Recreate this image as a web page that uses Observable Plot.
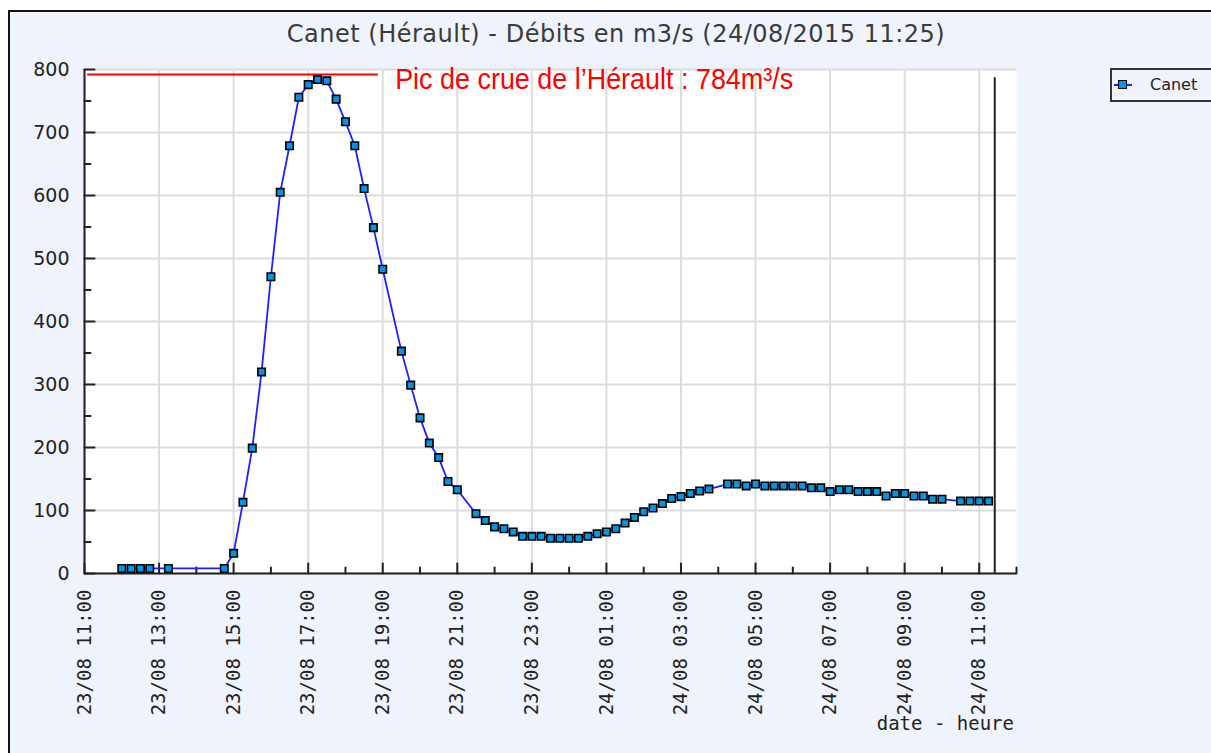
<!DOCTYPE html>
<html>
<head>
<meta charset="utf-8">
<script src="https://cdn.jsdelivr.net/npm/d3@7"></script>
<script src="https://cdn.jsdelivr.net/npm/@observablehq/plot@0.6"></script>
<style>
  html, body { margin: 0; padding: 0; background: #ffffff; }
  #root { position: relative; width: 1211px; height: 753px; overflow: hidden; font-family: "DejaVu Sans", sans-serif; }
  #panel { position: absolute; left: 8px; top: 10px; width: 1240px; height: 800px; border: 2px solid #111; background: #eff4fc; box-sizing: border-box; }
  #title { position: absolute; left: 616px; top: 22px; transform: translateX(-50%); white-space: nowrap;
           font-family: "DejaVu Sans", sans-serif; font-size: 24px; line-height: 24px; letter-spacing: 0.5px; color: #3a3a3a; }
  #chart { position: absolute; left: 0; top: 0; }
  #xlabel { position: absolute; right: 197px; top: 714px; white-space: nowrap;
            font-family: "DejaVu Sans Mono", monospace; font-size: 19px; line-height: 19px; color: #222; }
  #legend { position: absolute; left: 1110px; top: 68px; width: 140px; height: 34px; box-sizing: border-box;
            border: 2px solid #333; background: #eff4fc; }
  #legend .ln { position: absolute; left: 2px; top: 14px; width: 18px; height: 2px; background: #1f1fff; }
  #legend .sq { position: absolute; left: 6px; top: 10px; width: 7px; height: 7px; background: #0096e6; border: 1.5px solid #000; }
  #legend .tx { position: absolute; left: 38px; top: 6px; font-family: "DejaVu Sans", sans-serif; font-size: 16px; line-height: 18px; color: #222; }
</style>
</head>
<body>
<div id="root">
  <div id="panel"></div>
  <div id="title"></div>
  <div id="chart"></div>
  <div id="xlabel"></div>
  <div id="legend"><span class="ln"></span><span class="sq"></span><span class="tx"></span></div>
</div>
<script>
// ---- Texts ----
const titleText = "Canet (Hérault) - Débits en m3/s (24/08/2015 11:25)";
const xAxisLabel = "date - heure";
const seriesName = "Canet";
const peakLabel = "Pic de crue de l’Hérault : 784m³/s";

// ---- Series: measurement times and flows (m3/s) ----
const times = [
  "2015-08-23T12:00","2015-08-23T12:15","2015-08-23T12:30","2015-08-23T12:45","2015-08-23T13:15",
  "2015-08-23T14:45","2015-08-23T15:00","2015-08-23T15:15","2015-08-23T15:30","2015-08-23T15:45",
  "2015-08-23T16:00","2015-08-23T16:15","2015-08-23T16:30","2015-08-23T16:45","2015-08-23T17:00",
  "2015-08-23T17:15","2015-08-23T17:30","2015-08-23T17:45","2015-08-23T18:00","2015-08-23T18:15",
  "2015-08-23T18:30","2015-08-23T18:45","2015-08-23T19:00","2015-08-23T19:30","2015-08-23T19:45",
  "2015-08-23T20:00","2015-08-23T20:15","2015-08-23T20:30","2015-08-23T20:45","2015-08-23T21:00",
  "2015-08-23T21:30","2015-08-23T21:45","2015-08-23T22:00","2015-08-23T22:15","2015-08-23T22:30",
  "2015-08-23T22:45","2015-08-23T23:00","2015-08-23T23:15","2015-08-23T23:30","2015-08-23T23:45",
  "2015-08-24T00:00","2015-08-24T00:15","2015-08-24T00:30","2015-08-24T00:45","2015-08-24T01:00",
  "2015-08-24T01:15","2015-08-24T01:30","2015-08-24T01:45","2015-08-24T02:00","2015-08-24T02:15",
  "2015-08-24T02:30","2015-08-24T02:45","2015-08-24T03:00","2015-08-24T03:15","2015-08-24T03:30",
  "2015-08-24T03:45","2015-08-24T04:15","2015-08-24T04:30","2015-08-24T04:45","2015-08-24T05:00",
  "2015-08-24T05:15","2015-08-24T05:30","2015-08-24T05:45","2015-08-24T06:00","2015-08-24T06:15",
  "2015-08-24T06:30","2015-08-24T06:45","2015-08-24T07:00","2015-08-24T07:15","2015-08-24T07:30",
  "2015-08-24T07:45","2015-08-24T08:00","2015-08-24T08:15","2015-08-24T08:30","2015-08-24T08:45",
  "2015-08-24T09:00","2015-08-24T09:15","2015-08-24T09:30","2015-08-24T09:45","2015-08-24T10:00",
  "2015-08-24T10:30","2015-08-24T10:45","2015-08-24T11:00","2015-08-24T11:15"
];
const flows = [
  8, 8, 8, 8, 8,
  8, 32, 113, 199, 320,
  471, 605, 679, 756, 776,
  784, 782, 753, 717, 679,
  611, 549, 483, 353, 299,
  247, 207, 184, 146, 133,
  95, 84, 74, 71, 66,
  59, 59, 59, 56, 56,
  56, 56, 59, 63, 66,
  71, 80, 89, 98, 104,
  111, 119, 122, 127, 131,
  134, 142, 142, 139, 142,
  139, 139, 139, 139, 139,
  136, 136, 130, 133, 133,
  130, 130, 130, 123, 127,
  127, 123, 123, 118, 118,
  115, 115, 115, 115
];

// ---- Axes ----
const xDomain = ["2015-08-23T11:00", "2015-08-24T12:00"];
const xMajorTicks = ["2015-08-23T11:00","2015-08-23T13:00","2015-08-23T15:00","2015-08-23T17:00","2015-08-23T19:00",
  "2015-08-23T21:00","2015-08-23T23:00","2015-08-24T01:00","2015-08-24T03:00","2015-08-24T05:00",
  "2015-08-24T07:00","2015-08-24T09:00","2015-08-24T11:00"];
const xMinorTicks = ["2015-08-23T12:00","2015-08-23T14:00","2015-08-23T16:00","2015-08-23T18:00","2015-08-23T20:00",
  "2015-08-23T22:00","2015-08-24T00:00","2015-08-24T02:00","2015-08-24T04:00","2015-08-24T06:00",
  "2015-08-24T08:00","2015-08-24T10:00","2015-08-24T12:00"];
const yDomain = [0, 800];
const yMajorTicks = [0, 100, 200, 300, 400, 500, 600, 700, 800];
const yMinorTicks = [50, 150, 250, 350, 450, 550, 650, 750];

// ---- Annotations ----
const nowTime = "2015-08-24T11:25";
const nowTop = 787;
const peakLineY = 792;
const peakLineSpan = ["2015-08-23T11:05", "2015-08-23T18:53"];
const peakLabelTime = "2015-08-23T19:20";
const peakLabelY = 784;

// ---- Build ----
const parse = d3.timeParse("%Y-%m-%dT%H:%M");
const fmt = d3.timeFormat("%d/%m %H:%M");
const data = times.map((t, i) => ({t: parse(t), v: flows[i]}));
const xMaj = xMajorTicks.map(parse);
const xMin = xMinorTicks.map(parse);

const tickShape = {draw(ctx, l) { ctx.moveTo(0, 0); ctx.lineTo(0, -l); }};
const axisColor = "#222";

const chart = Plot.plot({
  width: 1211,
  height: 753,
  marginLeft: 84,
  marginRight: 195,
  marginTop: 69,
  marginBottom: 180,
  style: {background: "transparent", overflow: "visible"},
  x: {type: "time", domain: xDomain.map(parse), axis: null},
  y: {domain: yDomain, axis: null},
  marks: [
    Plot.frame({fill: "white", stroke: "none"}),
    Plot.ruleX(xMaj, {stroke: "#dcdcdc", strokeWidth: 2}),
    Plot.ruleY(yMajorTicks, {stroke: "#dcdcdc", strokeWidth: 2}),
    Plot.ruleX([parse(xDomain[0])], {stroke: axisColor, strokeWidth: 2}),
    Plot.ruleY([yDomain[0]], {stroke: axisColor, strokeWidth: 2}),
    Plot.vector(yMajorTicks, {y: d => d, frameAnchor: "left", length: 10, rotate: 90, anchor: "start", shape: tickShape, stroke: axisColor, strokeWidth: 2}),
    Plot.vector(yMinorTicks, {y: d => d, frameAnchor: "left", length: 6, rotate: 90, anchor: "start", shape: tickShape, stroke: axisColor, strokeWidth: 2}),
    Plot.vector(xMaj, {x: d => d, frameAnchor: "bottom", length: 10, rotate: 0, anchor: "start", shape: tickShape, stroke: axisColor, strokeWidth: 2}),
    Plot.vector(xMin, {x: d => d, frameAnchor: "bottom", length: 6, rotate: 0, anchor: "start", shape: tickShape, stroke: axisColor, strokeWidth: 2}),
    Plot.ruleX([parse(nowTime)], {y1: 0, y2: nowTop, stroke: axisColor, strokeWidth: 2}),
    Plot.ruleY([peakLineY], {x1: parse(peakLineSpan[0]), x2: parse(peakLineSpan[1]), stroke: "#ff0000", strokeWidth: 2}),
    Plot.line(data, {x: "t", y: "v", stroke: "#1f1fff", strokeWidth: 1.8}),
    Plot.dot(data, {x: "t", y: "v", symbol: "square", r: 4.2, fill: "#0096e6", stroke: "#000", strokeWidth: 1.6}),
    Plot.text([peakLabel], {x: parse(peakLabelTime), y: peakLabelY, text: d => d, textAnchor: "start", lineAnchor: "middle",
      fill: "#ff0000", fontSize: 30, fontFamily: "'Liberation Sans Narrow', 'Arial Narrow', 'Liberation Sans', sans-serif"}),
    Plot.text(yMajorTicks, {y: d => d, text: d => String(d), frameAnchor: "left", dx: -15, textAnchor: "end", lineAnchor: "middle",
      fill: axisColor, fontSize: 19, fontFamily: "DejaVu Sans"}),
    Plot.text(xMaj, {x: d => d, text: d => fmt(d), frameAnchor: "bottom", rotate: -90, textAnchor: "end", lineAnchor: "middle", dy: 16,
      fill: axisColor, fontSize: 19, fontFamily: "DejaVu Sans Mono"})
  ]
});

// condense the annotation text to the narrow width of the original
d3.select(chart).selectAll("text")
  .filter(function () { return this.textContent === peakLabel; })
  .attr("textLength", 398)
  .attr("lengthAdjust", "spacingAndGlyphs");

document.getElementById("chart").appendChild(chart);
document.getElementById("title").textContent = titleText;
document.getElementById("xlabel").textContent = xAxisLabel;
document.querySelector("#legend .tx").textContent = seriesName;
</script>
</body>
</html>
